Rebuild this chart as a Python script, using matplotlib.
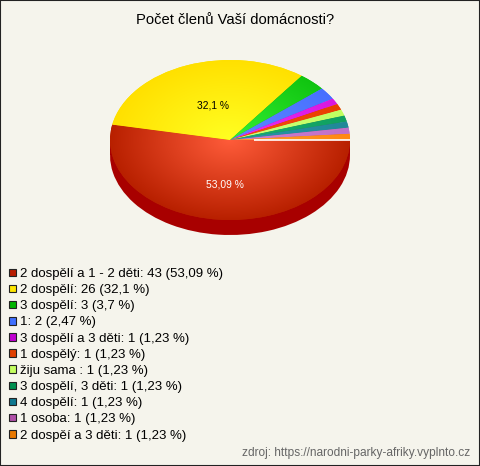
import numpy as np
import matplotlib
matplotlib.use('Agg')
import matplotlib.pyplot as plt
from matplotlib.colors import LinearSegmentedColormap
from matplotlib.patches import Patch

plt.rcParams['font.family'] = ['Liberation Sans', 'DejaVu Sans']

title = 'Počet členů Vaší domácnosti?'
source = 'zdroj: https://narodni-parky-afriky.vyplnto.cz'
labels = ['2 dospělí a 1 - 2 děti', '2 dospělí', '3 dospělí', '1', '3 dospělí a 3 děti',
          '1 dospělý', 'žiju sama ', '3 dospělí, 3 děti', '4 dospělí', '1 osoba', '2 dospěí a 3 děti']
counts = [43, 26, 3, 2, 1, 1, 1, 1, 1, 1, 1]
percents = ['53,09', '32,1', '3,7', '2,47', '1,23', '1,23', '1,23', '1,23', '1,23', '1,23', '1,23']
legend_colors = ['#b81c00', '#ffe600', '#00b400', '#4070ff', '#c000d0', '#e04000',
                 '#c4ff60', '#009050', '#107890', '#b050a8', '#e87800']
inner_colors = ['#ff5c3a', '#ffff22', '#34f034', '#5c88ff', '#e830f8', '#f85010',
                '#d0ff80', '#18b070', '#2898a8', '#d080d0', '#ffa030']
outer_colors = ['#b82000', '#ffe000', '#10c410', '#4870ff', '#d818e0', '#e84000',
                '#c0ff60', '#10a060', '#208898', '#c070c8', '#ff8810']
side_color = '#a80000'

W, H = 480, 466
bg = '#f5f4ec'
depth = 15 / 80

fig = plt.figure(figsize=(W / 100, H / 100), dpi=100, facecolor=bg)

# pie axes: 240 px wide, 160 px tall face plus the 15 px rim
ax = fig.add_axes([110 / W, 1 - 235 / H, 240 / W, 175 / H])

# rim first, the same pie pushed down, with a band joining both
ax.pie(counts, colors=[side_color] * len(counts), center=(0, -depth), radius=1,
       startangle=0, counterclock=False)
ax.fill_between([-1, 1], -depth, 0, color=side_color, lw=0)

wedges, _ = ax.pie(counts, colors=outer_colors, radius=1, startangle=0, counterclock=False)

# radial shading clipped to each slice
yy, xx = np.mgrid[-1:1:300j, -1:1:300j]
rr = np.clip(np.hypot(xx, yy), 0, 1)
for w, c1, c2 in zip(wedges, inner_colors, outer_colors):
    cmap = LinearSegmentedColormap.from_list('s', [c1, c2])
    im = ax.imshow(rr, extent=(-1, 1, -1, 1), cmap=cmap, vmin=0, vmax=1,
                   origin='lower', aspect='auto', zorder=2)
    im.set_clip_path(w)

# sliver where the pie closes
ax.plot([0.2, 1], [0, 0], color='white', lw=1.2, zorder=3, solid_capstyle='butt')

ax.set_aspect('auto')
ax.set_xlim(-1, 1)
ax.set_ylim(-1 - depth, 1)
ax.axis('off')

ax.text(-0.14, 0.425, percents[1] + ' %', color='black', fontsize=7.4,
        ha='center', va='center', zorder=4)
ax.text(-0.04, -0.56, percents[0] + ' %', color='white', fontsize=7.4,
        ha='center', va='center', zorder=4)

fig.text(235.5 / W, 1 - 20 / H, title, fontsize=10.6, color='black', ha='center', va='center')
fig.text(470 / W, 1 - 453 / H, source, fontsize=8.6, color='#666666', ha='right', va='center')

handles = [Patch(facecolor=c, edgecolor='#222222', lw=0.8) for c in legend_colors]
names = [f'{n}: {c} ({p} %)' for n, c, p in zip(labels, counts, percents)]
fig.legend(handles, names, loc='upper left', bbox_to_anchor=(9 / W, 1 - 268 / H),
           frameon=False, fontsize=9.5, labelspacing=0.315, handlelength=0.5, handleheight=0.5,
           handletextpad=0.32, borderpad=0, borderaxespad=0)

# thin dark frame around the whole picture
fig.patches.append(plt.Rectangle((0, 0), 1, 1, transform=fig.transFigure, fill=False,
                                 edgecolor='#222222', lw=1.5))

fig.savefig('out.png', dpi=100, facecolor=bg)
